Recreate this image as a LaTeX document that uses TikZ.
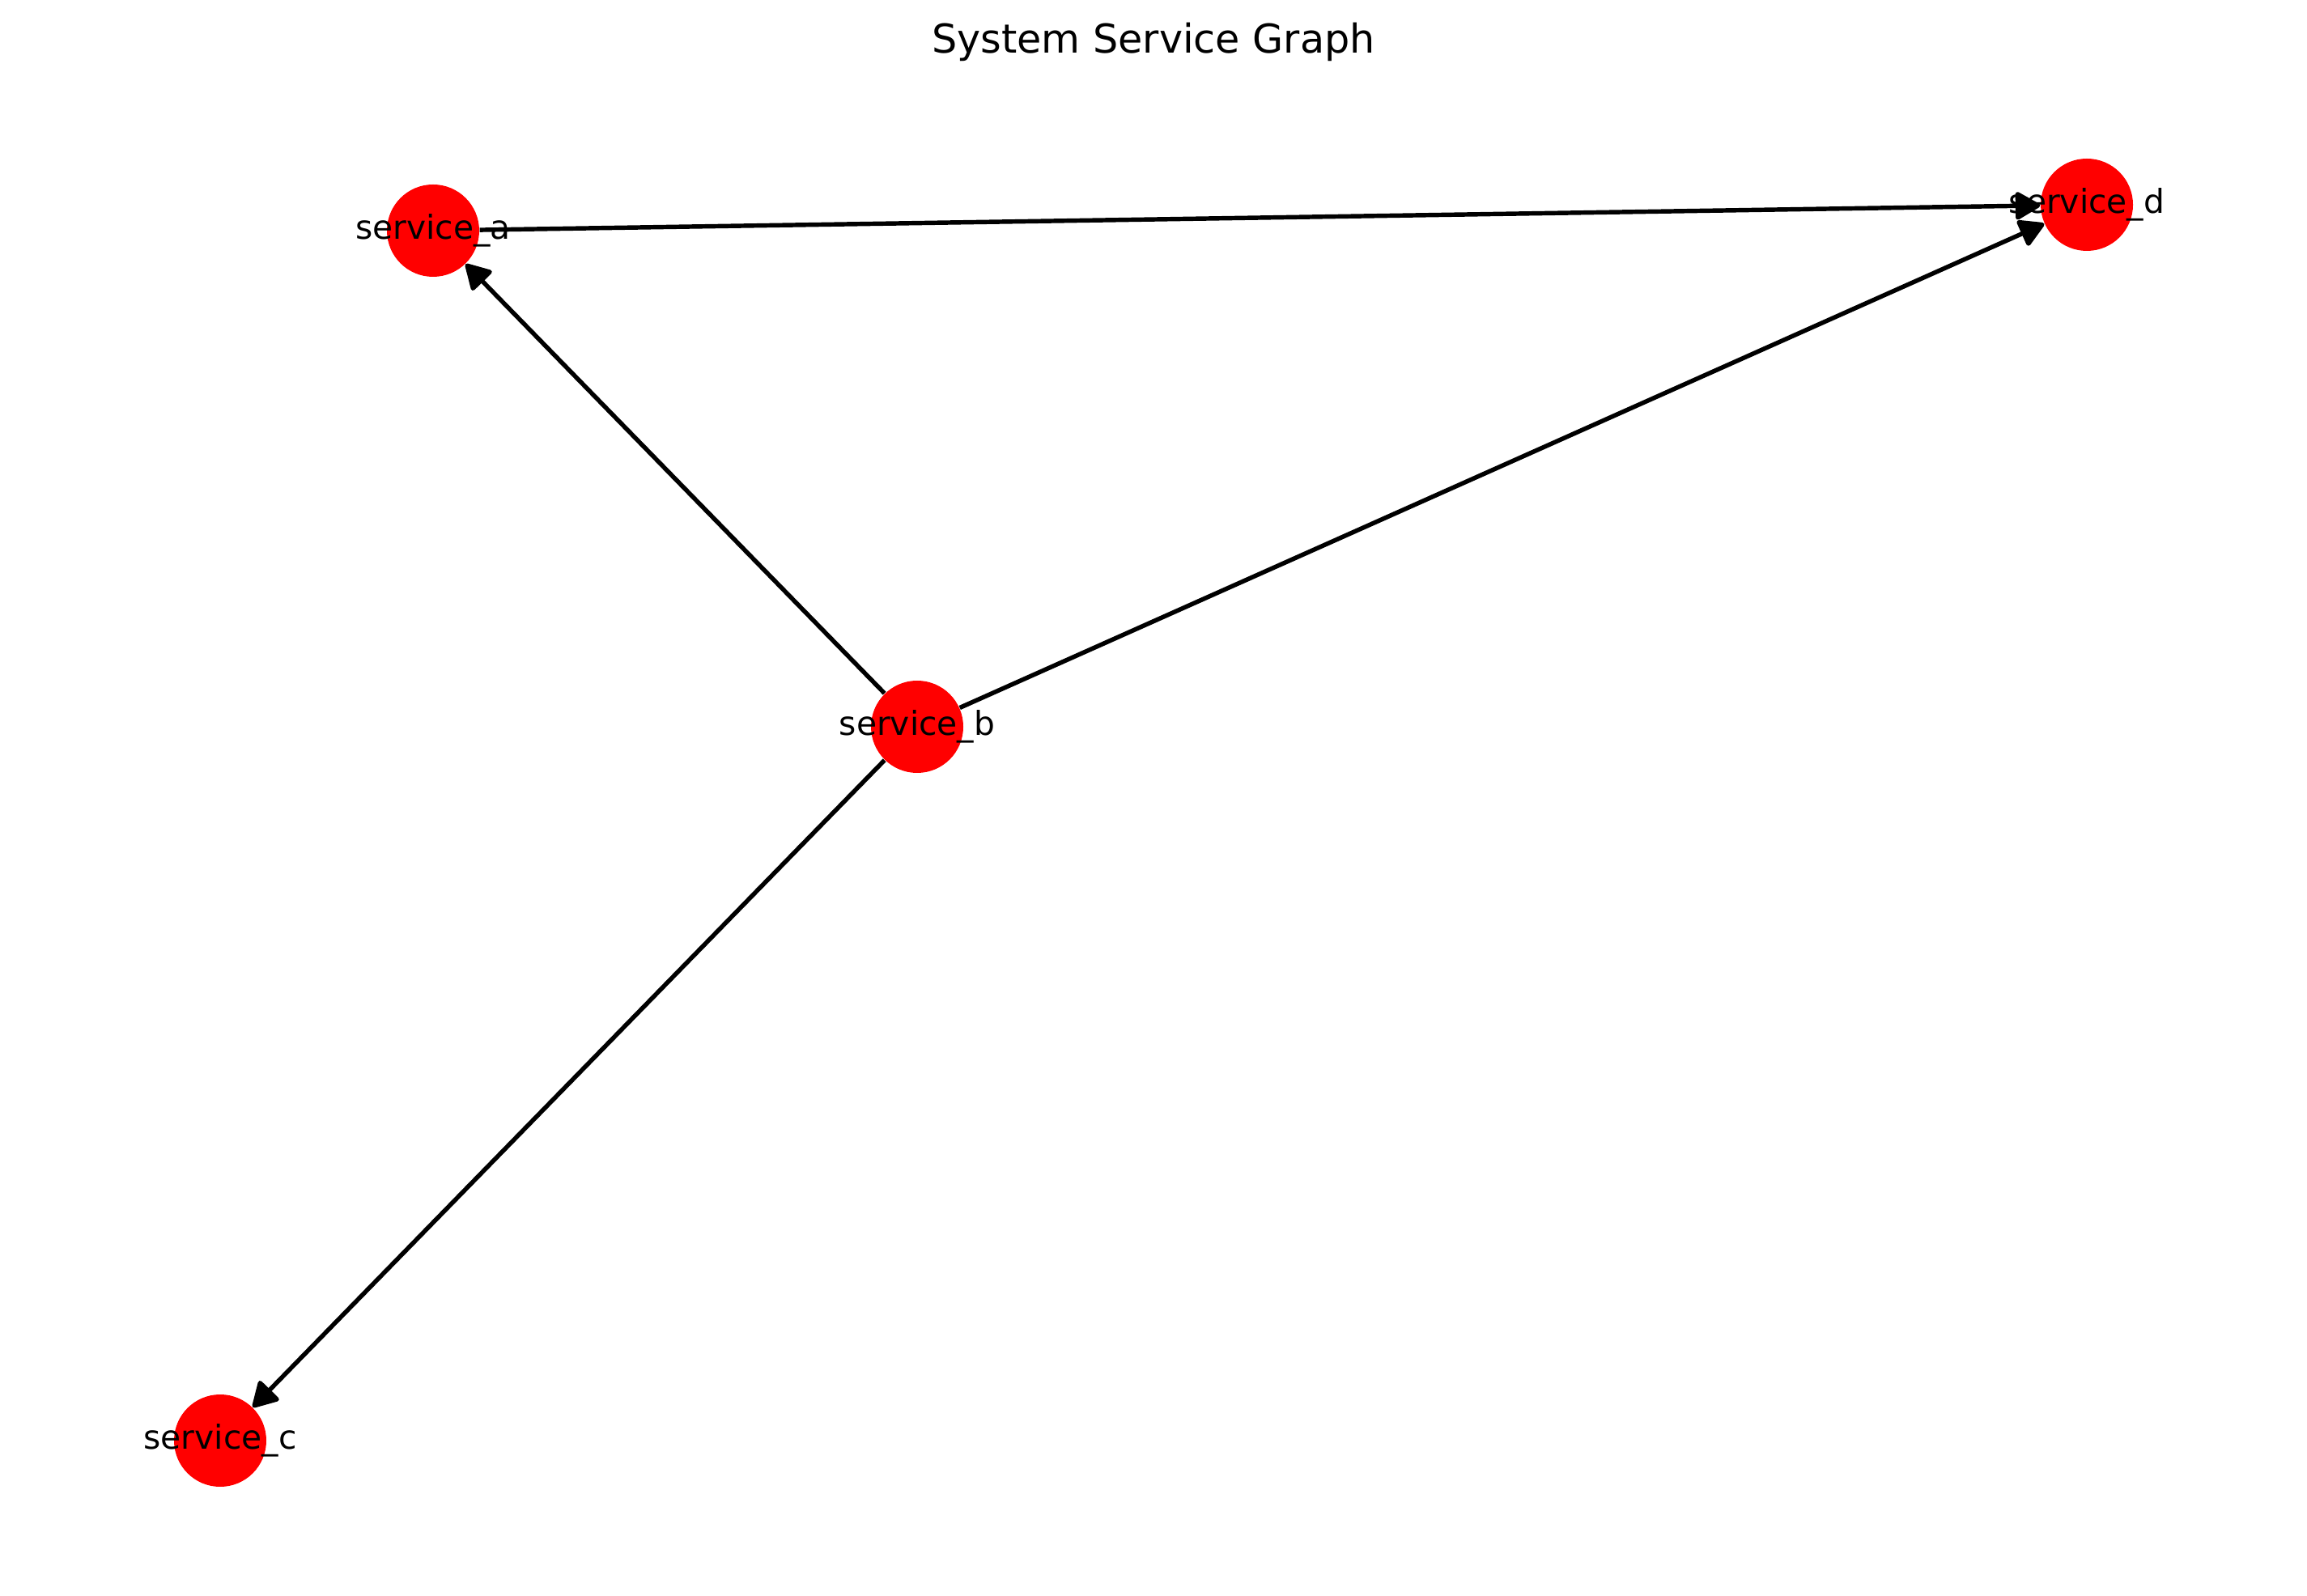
\documentclass[tikz,border=0pt]{standalone}
\usepackage{fontspec}
\setmainfont{DejaVu Sans}
\usetikzlibrary{arrows.meta}
\definecolor{nodered}{RGB}{255,0,0}
\tikzset{svc/.style={circle,fill=nodered,draw=none,minimum size=1.14cm,inner sep=0pt},
 lbl/.style={font=\fontsize{11.6}{13}\selectfont,text=black},
 arrow/.style={-{Triangle[length=9.5pt,width=10.5pt,round]},line width=1.55pt,black}}

\begin{document}
\begin{tikzpicture}
\useasboundingbox (0,0) rectangle (28.5,19.71);

\node[font=\fontsize{14}{16}\selectfont] (title) at (14.25,19.19) {System Service Graph};

\node[svc,label={[lbl]center:service\_a}] (a) at (5.35,16.86) {};
\node[svc,label={[lbl]center:service\_b}] (b) at (11.33,10.73) {};
\node[svc,label={[lbl]center:service\_c}] (c) at (2.72,1.91) {};
\node[svc,label={[lbl]center:service\_d}] (d) at (25.78,17.18) {};

\draw[arrow] (a)--(d);
\draw[arrow] (b)--(a);
\draw[arrow] (b)--(d);
\draw[arrow] (b)--(c);
\end{tikzpicture}
\end{document}
